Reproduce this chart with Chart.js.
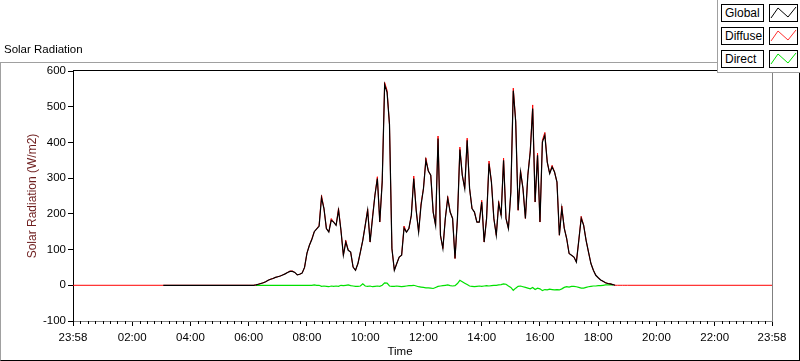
<!DOCTYPE html>
<html>
<head>
<meta charset="utf-8">
<script src="https://cdn.jsdelivr.net/npm/chart.js@4.4.0/dist/chart.umd.min.js"></script>
<style>
  body { margin: 0; background: #fff; font-family: 'Liberation Sans', Arial, sans-serif; color: #000; }
  #wrap { position: relative; width: 800px; height: 361px; overflow: hidden; }
  #frame { position: absolute; left: 0; top: 62px; width: 798px; height: 297px;
    border-left: 1px solid #a0a0a0; border-top: 1px solid #a0a0a0;
    border-right: 1px solid #000; border-bottom: 1px solid #000; }
  canvas { position: absolute; left: 0; top: 0; }
  #title { position: absolute; left: 4px; top: 43px; font-size: 11.5px; }
  #xtitle { position: absolute; left: 0; width: 800px; top: 345px; text-align: center; font-size: 11.5px; }
  #legend { position: absolute; left: 717px; top: 0; width: 83px; height: 73px; background: #fff;
    border-left: 1px solid #a0a0a0; border-bottom: 1px solid #a0a0a0; box-sizing: border-box; }
  .lab { position: absolute; left: 3px; width: 43px; height: 18px; border: 1px solid #000;
    box-sizing: border-box; font-size: 12px; line-height: 16px; padding-left: 3px; }
  .smp { position: absolute; left: 51px; width: 29px; height: 18px; border: 1px solid #000; box-sizing: border-box; }
  .smp svg { position: absolute; left: 0; top: 0; }
</style>
</head>
<body>
<div id="wrap">
  <div id="frame"></div>
  <canvas id="c" width="800" height="361"></canvas>
  <div id="title">Solar Radiation</div>
  <div id="xtitle">Time</div>
  <div id="legend">
    <div class="lab" style="top:4px">Global</div>
    <div class="smp" style="top:4px"><svg width="27" height="16"><polyline points="1,13 8,3 18,12 26,2" fill="none" stroke="#000" stroke-width="1"/></svg></div>
    <div class="lab" style="top:27px">Diffuse</div>
    <div class="smp" style="top:27px"><svg width="27" height="16"><polyline points="1,13 8,3 18,12 26,2" fill="none" stroke="#ff3030" stroke-width="1"/></svg></div>
    <div class="lab" style="top:50px">Direct</div>
    <div class="smp" style="top:50px"><svg width="27" height="16"><polyline points="1,13 8,3 18,12 26,2" fill="none" stroke="#00e000" stroke-width="1"/></svg></div>
  </div>
</div>
<script>
// x is minutes after midnight; the chart runs 23:58 -> 23:58
const tickTimes = [-2, 120, 240, 360, 480, 600, 720, 840, 960, 1080, 1200, 1320, 1438];
const tickLabels = ['23:58', '02:00', '04:00', '06:00', '08:00', '10:00', '12:00',
  '14:00', '16:00', '18:00', '20:00', '22:00', '23:58'];

// daytime samples, every 5 min from 06:00 to 19:00
const dayStart = 360;
const step = 5;

const globalDay = [
  0, 0, 0, 1, 3, 5, 7, 10, 14, 17,
  19, 22, 24, 26, 29, 32, 36, 39, 39, 36,
  29, 31, 34, 50, 90, 112, 128, 150, 158, 165,
  245, 215, 159, 149, 182, 177, 168, 210, 154, 84,
  121, 98, 93, 51, 42, 61, 93, 126, 168, 210,
  121, 187, 252, 299, 177, 289, 562, 540, 450, 103,
  42, 61, 79, 84, 160, 149, 159, 196, 299, 210,
  149, 224, 271, 350, 320, 308, 205, 168, 411, 140,
  103, 187, 243, 205, 187, 75, 187, 380, 308, 271,
  406, 271, 215, 205, 177, 177, 233, 121, 187, 341,
  289, 187, 140, 229, 196, 350, 187, 159, 261, 545,
  457, 210, 317, 271, 187, 308, 373, 495, 233, 364,
  177, 401, 420, 345, 313, 331, 317, 289, 140, 215,
  160, 131, 89, 84, 79, 65, 126, 187, 168, 126,
  93, 61, 42, 28, 21, 15, 11, 7, 5, 4,
  2, 0, null, null, null, null, null
];

const diffuseDay = [
  0, 0, 0, 1, 3, 5, 7, 10, 14, 17,
  19, 22, 24, 26, 29, 32, 36, 40, 40, 36,
  29, 31, 34, 50, 90, 112, 130, 150, 158, 168,
  252, 215, 159, 149, 187, 177, 168, 216, 154, 84,
  126, 98, 93, 51, 42, 61, 93, 126, 168, 214,
  121, 192, 252, 304, 177, 293, 568, 546, 450, 103,
  42, 61, 79, 84, 166, 149, 159, 196, 306, 210,
  149, 229, 271, 357, 320, 308, 205, 168, 418, 140,
  103, 187, 249, 205, 187, 75, 187, 387, 308, 271,
  412, 271, 215, 205, 177, 177, 238, 121, 187, 348,
  289, 187, 140, 235, 196, 356, 187, 159, 261, 552,
  462, 210, 322, 271, 187, 308, 378, 505, 233, 370,
  177, 406, 428, 345, 313, 336, 317, 289, 140, 222,
  160, 131, 89, 84, 79, 65, 126, 193, 168, 126,
  93, 61, 42, 28, 21, 15, 11, 7, 5, 4,
  2, 0, 0, 0, 0, 0, 0
];

const directDay = [
  null, null, null, 0, 0, 0, 0, 0, 0, 0,
  0, 0, 0, 0, 0, 0, 0, 0, 0, 0,
  0, 0, 0, 0, 0, 0, 0, 1, 0, 0,
  -3, -2, -3, -4, -2, -3, -2, -3, 0, -1,
  0, 1, -1, -2, -3, -3, -2, 4, -2, -3,
  -2, -4, -3, -2, -3, 0, 7, 6, -2, -3,
  -3, -2, -3, -4, -3, -2, -1, -1, 0, -2,
  -4, -5, -6, -7, -7, -8, -9, -6, -3, -2,
  -1, 0, 1, -1, -2, -1, 5, 14, 10, 6,
  2, -2, -3, -4, -3, -2, -3, -2, -1, -2,
  -1, 0, 0, 1, 2, 4, 3, -2, -6, -14,
  -8, -3, -2, -4, -6, -8, -10, -6, -12, -8,
  -10, -15, -12, -13, -11, -12, -13, -12, -13, -10,
  -6, -4, -5, -3, -3, -4, -6, -8, -8, -6,
  -4, -3, -2, -2, -1, -1, 0, 1, 1, 2,
  0, null, null, null, null, null, null
];

// night parts: [minute, value]
const globalNight = [[184, 0]];
const diffuseNightStart = [[-2, 0]];
const diffuseNightEnd = [[1438, 0]];

function toPoints(vals) {
  const pts = [];
  vals.forEach((v, i) => { if (v !== null) pts.push({ x: dayStart + i * step, y: v }); });
  return pts;
}
const pairs = arr => arr.map(p => ({ x: p[0], y: p[1] }));

const frame = {
  id: 'frame',
  afterDraw(chart) {
    const { ctx, chartArea: a, scales: { x } } = chart;
    ctx.save();
    ctx.lineWidth = 1;
    ctx.strokeStyle = '#000';
    ctx.beginPath();
    ctx.moveTo(a.left, a.top - 0.5);
    ctx.lineTo(a.right + 1, a.top - 0.5);
    ctx.stroke();
    ctx.strokeStyle = '#808080';
    ctx.beginPath();
    ctx.moveTo(a.right + 0.5, a.top);
    ctx.lineTo(a.right + 0.5, a.bottom);
    ctx.stroke();
    // minor ticks, 8 parts per major interval
    ctx.strokeStyle = '#000';
    ctx.beginPath();
    for (let i = 0; i < tickTimes.length - 1; i++) {
      const t0 = tickTimes[i], t1 = tickTimes[i + 1];
      for (let j = 1; j < 8; j++) {
        const px = Math.round(x.getPixelForValue(t0 + (t1 - t0) * j / 8)) + 0.5;
        ctx.moveTo(px, a.bottom);
        ctx.lineTo(px, a.bottom + 3);
      }
    }
    ctx.stroke();
    ctx.restore();
  }
};

Chart.defaults.font.family = "'Liberation Sans', Arial, sans-serif";
Chart.defaults.font.size = 11.5;
Chart.defaults.color = '#000';

new Chart(document.getElementById('c'), {
  type: 'line',
  data: {
    datasets: [
      { label: 'Global', data: pairs(globalNight).concat(toPoints(globalDay)),
        borderColor: '#000', borderWidth: 1.2 },
      { label: 'Diffuse', data: pairs(diffuseNightStart).concat(toPoints(diffuseDay), pairs(diffuseNightEnd)),
        borderColor: '#ff0000', borderWidth: 1 },
      { label: 'Direct', data: toPoints(directDay),
        borderColor: '#00e000', borderWidth: 1.2 }
    ]
  },
  options: {
    responsive: false,
    animation: false,
    devicePixelRatio: 1,
    layout: { padding: { top: 71, right: 28, left: 0, bottom: 0 } },
    elements: { point: { radius: 0 }, line: { tension: 0 } },
    plugins: { legend: { display: false }, tooltip: { enabled: false } },
    scales: {
      x: {
        type: 'linear', min: -2, max: 1438,
        afterBuildTicks: s => { s.ticks = tickTimes.map(v => ({ value: v })); },
        afterFit: s => { s.height = 40; },
        ticks: { callback: (v, i) => tickLabels[i], autoSkip: false, maxRotation: 0, minRotation: 0, padding: 5 },
        grid: { drawOnChartArea: false, drawTicks: true, tickLength: 5, color: '#000' },
        border: { color: '#808080' }
      },
      y: {
        min: -100, max: 600,
        afterFit: s => { s.width = 73; },
        ticks: { stepSize: 100, padding: 2 },
        grid: { drawOnChartArea: false, drawTicks: true, tickLength: 5, color: '#000' },
        border: { color: '#000' },
        title: { display: true, text: 'Solar Radiation (W/m2)', color: '#6e1e1e',
          font: { size: 12 }, padding: { top: 25, bottom: 0 } }
      }
    }
  },
  plugins: [frame]
});
</script>
</body>
</html>
